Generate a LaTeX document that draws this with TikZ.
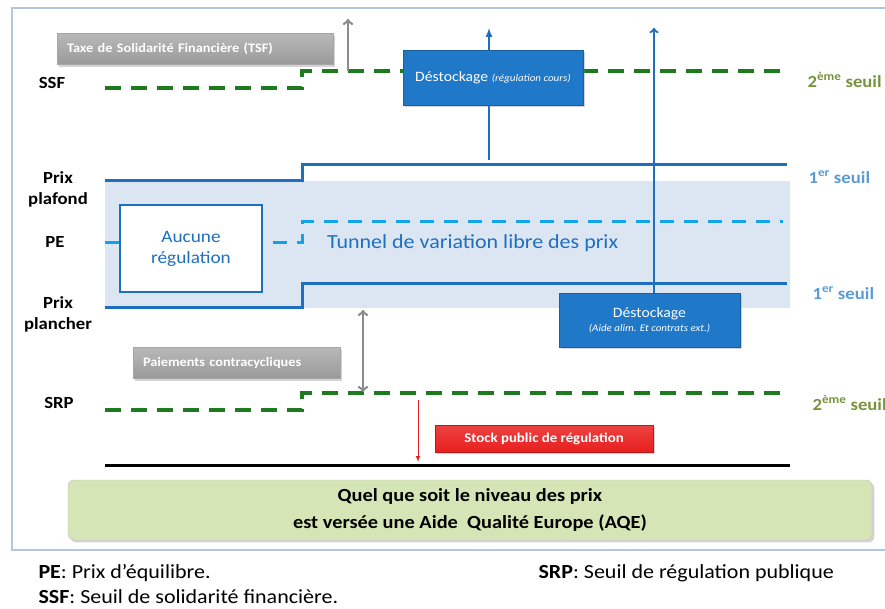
\documentclass[tikz,border=0pt]{standalone}
\usepackage{fontspec}
\setmainfont{Carlito}[FakeStretch=1.1]
\usetikzlibrary{shapes,backgrounds,shadows}
\usetikzlibrary{arrows}

\definecolor{frameblue}{HTML}{B4C6DC}
\definecolor{tunnelfill}{HTML}{DCE6F2}
\definecolor{lineblue}{HTML}{1F6FC0}
\definecolor{peblue}{HTML}{12A3EA}
\definecolor{seuilblue}{HTML}{5B9BD5}
\definecolor{ssfgreen}{HTML}{1E7A1E}
\definecolor{seuilgreen}{HTML}{77933C}
\definecolor{boxblue}{HTML}{1F78C8}
\definecolor{stockred}{HTML}{E8201F}
\definecolor{aqegreen}{HTML}{D5E5B5}

\tikzset{
  greybox/.style={draw=gray!70, top color=gray!55, bottom color=gray!80, text=white,
    font=\fontsize{13}{14}\selectfont\bfseries, inner xsep=10pt, minimum height=31pt,
    align=left, drop shadow={opacity=0.35}},
  bluebox/.style={draw=boxblue!80!black, fill=boxblue, text=white, align=center,
    font=\fontsize{14.3}{15}\selectfont, inner sep=0pt, drop shadow={opacity=0.35}},
  seuil/.style={font=\fontsize{17}{18}\selectfont\bfseries, anchor=west},
  axelabel/.style={font=\fontsize{17}{21}\selectfont\bfseries, align=center},
  greendash/.style={ssfgreen, line width=3.5pt, dash pattern=on 16pt off 10pt},
  tunnelline/.style={lineblue, line width=3pt},
  greyarrow/.style={gray!90, line width=2.6pt},
}

\begin{document}
\begin{tikzpicture}[x=1pt, y=-1pt]
\useasboundingbox (0,0) rectangle (885,609);
\draw[frameblue, line width=1.2pt] (12,8) rectangle (895,550);

% tunnel
\fill[tunnelfill] (105,181) rectangle (790,308);

% seuils
\draw[greendash] (105,88) -- (302,88) -- (302,71) -- (782,71);
\draw[tunnelline] (105,181) -- (302,181) -- (302,165) -- (787,165);
\draw[peblue, line width=3pt, dash pattern=on 14pt off 10pt] (105,243) -- (302,243) -- (302,222) -- (783,222);
\draw[tunnelline] (105,307) -- (302,307) -- (302,284) -- (787,284);
\draw[greendash] (105,410) -- (302,410) -- (302,393) -- (782,393);
\draw[line width=3pt] (105,465) -- (790,465);

\coordinate (tsftop) at (348,19);
\coordinate (tsfbas) at (348,71);
\coordinate (haut1) at (489,28);
\coordinate (bas1) at (489,160);
\coordinate (haut2) at (654,28);
\coordinate (planchbas) at (363,310);
\coordinate (srphaut) at (363,392);
\coordinate (stockhaut) at (418,400);
\coordinate (stockbas) at (418,462);

\node[axelabel] (ssf) at (52,83) {SSF};
\node[axelabel] (plafond) at (58,189) {Prix\\plafond};
\node[axelabel] (pe) at (55,242) {PE};
\node[axelabel] (plancher) at (58,314) {Prix\\plancher};
\node[axelabel] (srp) at (59,403) {SRP};

\node[seuil, text=seuilgreen] (seuil2h) at (804,80) {2\textsuperscript{ème} seuil};
\node[seuil, text=seuilblue] (seuil1h) at (805,177) {1\textsuperscript{er} seuil};
\node[seuil, text=seuilblue] (seuil1b) at (809,293) {1\textsuperscript{er} seuil};
\node[seuil, text=seuilgreen] (seuil2b) at (809,403) {2\textsuperscript{ème} seuil};

\node[greybox, text width=256pt] (tsf) at (195,49) {Taxe de Solidarité Financière (TSF)};
\node[greybox, text width=187pt] (paiements) at (236.5,363) {Paiements contracycliques};

\node[draw=lineblue, line width=2.5pt, fill=white, text=lineblue, align=center,
  minimum width=142pt, minimum height=87pt, font=\fontsize{17.5}{21}\selectfont] (aucune) at (191,248.5) {Aucune\\régulation};
\node[text=lineblue, anchor=west, inner sep=0pt, font=\fontsize{20}{22}\selectfont] (tunnel) at (327,243) {Tunnel de variation libre des prix};

\node[bluebox, minimum width=180pt, minimum height=55pt] (destockhaut) at (493,77.5)
  {Déstockage {\fontsize{10}{11}\selectfont\itshape (régulation cours)}};
\node[bluebox, minimum width=181pt, minimum height=54pt] (destockbas) at (649.5,320)
  {Déstockage\\[-1pt]{\fontsize{10}{11}\selectfont\itshape (Aide alim. Et contrats ext.)}};

\node[draw=stockred!80!black, top color=stockred!85, bottom color=stockred, text=white,
  minimum width=218pt, minimum height=27pt, inner sep=0pt, drop shadow={opacity=0.35},
  font=\fontsize{13.5}{14}\selectfont\bfseries] (stock) at (544,438.5) {Stock public de régulation};

\node[draw=gray!50, fill=aqegreen, rounded corners=6pt, minimum width=804pt, minimum height=60pt,
  align=center, font=\fontsize{18.5}{27}\selectfont\bfseries, drop shadow={opacity=0.35}] (aqe) at (470,510)
  {Quel que soit le niveau des prix\\est versée une Aide\ \ Qualité Europe (AQE)};

% fleches
\draw[greyarrow, ->] (tsfbas) -- (tsftop);
\draw[greyarrow, <->] (planchbas) -- (srphaut);
\draw[lineblue, line width=2pt, -latex] (destockhaut.north -| haut1) -- (haut1);
\draw[lineblue, line width=2pt] (destockhaut.south -| bas1) -- (bas1);
\draw[lineblue, line width=2.2pt, ->] (destockbas.north -| haut2) -- (haut2);
\draw[stockred, line width=1pt, -latex] (stockhaut) -- (stockbas);

% legende
\node[anchor=west, font=\fontsize{20}{22}\selectfont] (legpe) at (35,573) {\textbf{PE}: Prix d’équilibre.};
\node[anchor=west, font=\fontsize{20}{22}\selectfont] (legssf) at (35,597) {\textbf{SSF}: Seuil de solidarité financière.};
\node[anchor=west, font=\fontsize{20}{22}\selectfont] (legsrp) at (535,573) {\textbf{SRP}: Seuil de régulation publique};
\end{tikzpicture}
\end{document}
